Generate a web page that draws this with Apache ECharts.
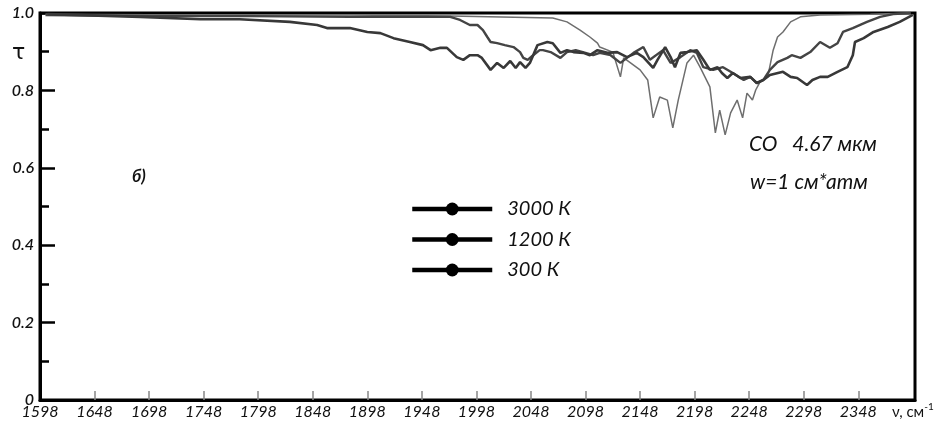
<!DOCTYPE html>
<html>
<head>
<meta charset="utf-8">
<script src="https://cdn.jsdelivr.net/npm/echarts@6/dist/echarts.min.js"></script>
<style>
html,body{margin:0;padding:0;background:#fff;}
#chart{width:942px;height:426px;}
</style>
</head>
<body>
<div id="chart"></div>
<script>
// Wavenumber (cm^-1) and transmittance for each temperature
const wn3000 = [1605,1690,1745,1781,1827,1852,1861,1882,1898,1910,1922,1937,1949,1956,1965,1971,1980,1986,1992,1999,2003,2011,2017,2023,2029,2034,2038,2043,2047,2054,2063,2068,2075,2081,2087,2096,2102,2109,2118,2127,2136,2145,2151,2160,2164,2171,2176,2180,2185,2191,2200,2206,2212,2219,2223,2228,2233,2240,2249,2255,2261,2267,2279,2286,2292,2301,2306,2313,2320,2329,2338,2343,2345,2353,2362,2375,2386,2398];
const tau3000 = [0.997,0.990,0.984,0.984,0.977,0.969,0.961,0.961,0.951,0.948,0.935,0.925,0.917,0.904,0.910,0.910,0.886,0.879,0.891,0.891,0.884,0.853,0.871,0.858,0.876,0.858,0.873,0.858,0.871,0.917,0.925,0.922,0.897,0.904,0.899,0.897,0.891,0.904,0.897,0.899,0.886,0.897,0.886,0.858,0.879,0.912,0.886,0.860,0.897,0.899,0.904,0.879,0.853,0.860,0.845,0.832,0.845,0.832,0.835,0.819,0.827,0.840,0.848,0.835,0.832,0.814,0.827,0.835,0.835,0.848,0.860,0.891,0.925,0.935,0.951,0.964,0.977,0.995];

const wn1200 = [1603,1699,1791,1882,1974,1983,1992,1999,2004,2008,2011,2017,2024,2032,2038,2041,2045,2050,2056,2059,2066,2075,2081,2089,2098,2105,2111,2121,2130,2142,2151,2157,2169,2176,2185,2194,2200,2206,2215,2224,2233,2243,2249,2255,2261,2267,2274,2283,2287,2295,2304,2313,2322,2329,2334,2343,2356,2368,2380,2396];
const tau1200 = [0.995,0.992,0.992,0.990,0.990,0.982,0.969,0.969,0.956,0.938,0.925,0.922,0.917,0.912,0.899,0.884,0.879,0.891,0.904,0.904,0.899,0.884,0.899,0.904,0.897,0.891,0.897,0.891,0.871,0.897,0.912,0.879,0.904,0.871,0.886,0.904,0.897,0.860,0.853,0.860,0.845,0.827,0.835,0.819,0.827,0.853,0.873,0.884,0.891,0.884,0.899,0.925,0.910,0.922,0.951,0.961,0.977,0.990,0.997,1.000];

const wn300 = [1603,1745,1882,1974,2068,2081,2093,2102,2109,2111,2123,2130,2133,2148,2155,2160,2166,2173,2178,2183,2191,2197,2203,2212,2217,2221,2226,2231,2237,2242,2246,2251,2254,2258,2265,2270,2274,2279,2286,2295,2313,2359,2396];
const tau300 = [0.997,0.995,0.995,0.992,0.987,0.977,0.956,0.938,0.922,0.912,0.899,0.835,0.884,0.853,0.827,0.729,0.783,0.775,0.703,0.775,0.871,0.891,0.860,0.809,0.690,0.749,0.685,0.742,0.775,0.729,0.793,0.775,0.801,0.822,0.835,0.904,0.938,0.951,0.977,0.990,0.995,0.997,1.000];

const seriesNames = ['3000 К', '1200 К', '300 К'];
const xTickValues = [1598,1648,1698,1748,1798,1848,1898,1948,1998,2048,2098,2148,2198,2248,2298,2348];
const yTickLabels = ['0','0.2','0.4','0.6','0.8','1.0'];

function pairs(xs, ys){ return xs.map((x,i)=>[x, ys[i]]); }

const FONT = 'Lato, "Open Sans", sans-serif';
const chart = echarts.init(document.getElementById('chart'), null, {renderer:'canvas'});

const styles = [
  {color:'#383838', width:2.6},
  {color:'#444444', width:2.4},
  {color:'#6e6e6e', width:1.5}
];
const dataSets = [pairs(wn3000,tau3000), pairs(wn1200,tau1200), pairs(wn300,tau300)];

chart.setOption({
  animation:false,
  backgroundColor:'#fff',
  grid:{left:40, right:27, top:13, bottom:26, containLabel:false, show:true, borderColor:'#000', borderWidth:3, backgroundColor:'transparent'},
  xAxis:{
    type:'value', min:1598, max:2400,
    axisLine:{show:true, lineStyle:{color:'#000', width:3}},
    axisTick:{show:true, inside:true, length:9, lineStyle:{color:'#888', width:1.5}, customValues:xTickValues.slice(1)},
    axisLabel:{show:true, customValues:xTickValues, margin:4, fontFamily:FONT, fontStyle:'italic', fontSize:16, color:'#111', formatter:v=>String(v)},
    splitLine:{show:false}
  },
  yAxis:{
    type:'value', min:0, max:1, interval:0.2,
    axisLine:{show:true, lineStyle:{color:'#000', width:3}},
    axisTick:{show:true, inside:true, length:15, lineStyle:{color:'#000', width:2.5}},
    minorTick:{show:true, splitNumber:2, length:9, lineStyle:{color:'#000', width:2.5}},
    axisLabel:{margin:6, fontFamily:FONT, fontStyle:'italic', fontWeight:600, fontSize:16, color:'#111',
      formatter:v=>yTickLabels[Math.round(v*5)]},
    splitLine:{show:false}
  },
  legend:{
    orient:'vertical', left:405, top:194, itemWidth:80, itemHeight:16, itemGap:10.5,
    data:seriesNames,
    lineStyle:{color:'#000', width:4.5},
    itemStyle:{color:'#000', borderWidth:0},
    textStyle:{fontFamily:FONT, fontStyle:'italic', fontSize:20, color:'#111', padding:[0,0,0,10]}
  },
  series:seriesNames.map((n,i)=>({
    name:n, type:'line', data:dataSets[i], symbol:'circle', showSymbol:false,
    lineStyle:{color:styles[i].color, width:styles[i].width}, itemStyle:{color:styles[i].color},
    z:3-i, silent:true
  })),
  graphic:[
    {type:'text', left:12, top:42, style:{text:'τ', font:'22px "DejaVu Sans", sans-serif', fill:'#111'}},
    {type:'text', left:132, top:168, style:{text:'б)', font:'italic bold 17px '+FONT, fill:'#111'}},
    {type:'text', left:749, top:134, style:{text:'CO   4.67 мкм', font:'italic 21px '+FONT, fill:'#111'}},
    {type:'text', left:750, top:172, style:{text:'w=1 см*атм', font:'italic 21px '+FONT, fill:'#111'}},
    {type:'text', left:892, top:402, style:{
      text:'{a|ν, см}{b|-1}',
      rich:{a:{font:'15px '+FONT, fill:'#111', verticalAlign:'bottom'}, b:{font:'10px '+FONT, fill:'#111', verticalAlign:'top', padding:[0,0,8,0]}}
    }}
  ]
});
</script>
</body>
</html>
